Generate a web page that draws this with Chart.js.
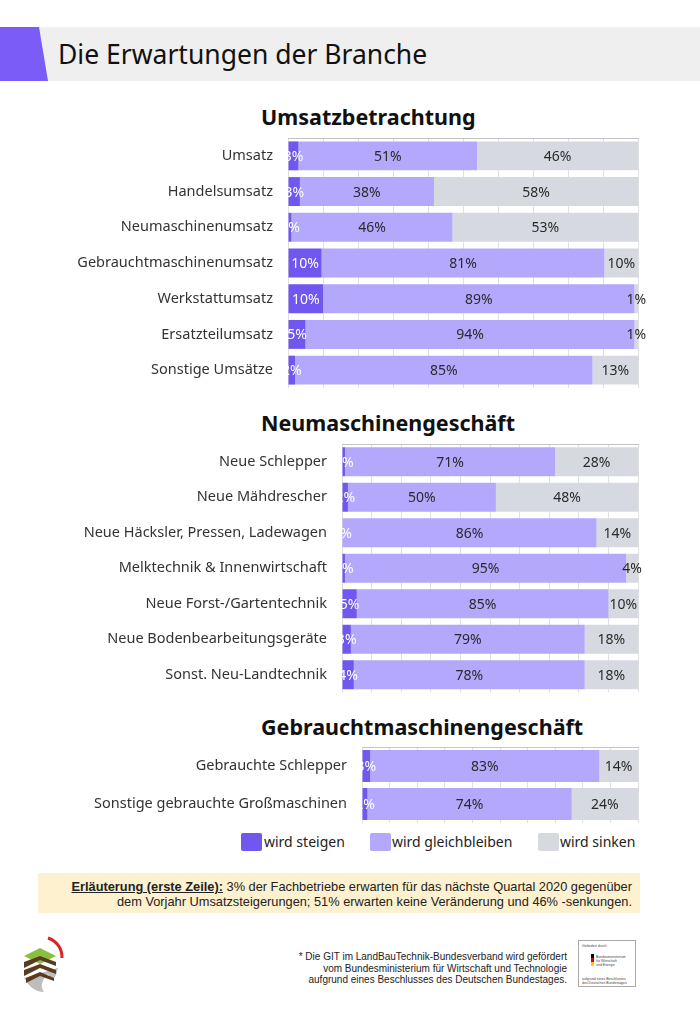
<!DOCTYPE html>
<html lang="de">
<head>
<meta charset="utf-8">
<title>Die Erwartungen der Branche</title>
<script src="https://cdn.jsdelivr.net/npm/chart.js@4.4.0/dist/chart.umd.min.js"></script>
<style>
    body { margin: 0; width: 700px; height: 1011px; position: relative; background: #fff;
           font-family: "Noto Sans", sans-serif; overflow: hidden; color: #222; }
    .titlebar { position: absolute; left: 0; top: 27px; width: 700px; height: 54px; background: #efefef; }
    .titlebar .flag { position: absolute; left: 0; top: 0; width: 48px; height: 54px; background: #7b5cf6;
                      clip-path: polygon(0 0, 39px 0, 48px 100%, 0 100%); }
    .titlebar h1 { position: absolute; left: 58px; top: 0; margin: 0; font-weight: normal; font-size: 26.5px;
                   line-height: 54px; color: #111; white-space: nowrap; }
    .section { position: absolute; left: 261px; margin: 0; font-weight: bold; font-size: 21.5px; line-height: 30px; color: #111; }
    canvas { position: absolute; left: 0; }
    .legend { position: absolute; top: 831px; left: 0; width: 700px; height: 22px; font-size: 14px; color: #222; }
    .legend span { position: absolute; top: 0; line-height: 22px; white-space: nowrap; }
    .legend i { position: absolute; top: 2px; width: 21px; height: 18px; border-radius: 2px; }
    .note { position: absolute; left: 38px; top: 873px; width: 602px; height: 40px; background: #fdf1cf; }
    .note div { position: absolute; right: 8px; white-space: nowrap; font-family: "Liberation Sans Narrow", sans-serif;
                font-size: 12.8px; line-height: 15px; color: #222; }
    .foot { position: absolute; right: 133px; top: 951px; text-align: right; font-family: "Liberation Sans Narrow", sans-serif;
            font-size: 10px; line-height: 11.5px; color: #222; white-space: nowrap; }
    .fund { position: absolute; left: 578px; top: 940px; width: 58px; height: 47px; border: 1px solid #aaa; box-sizing: border-box;
            font-family: "Liberation Sans Narrow", sans-serif; font-size: 3.5px; line-height: 4px; color: #444; }
</style>
</head>
<body>

<div class="titlebar"><div class="flag"></div><h1>Die Erwartungen der Branche</h1></div>

<h2 class="section" style="top:102px">Umsatzbetrachtung</h2>
<canvas id="chartUmsatz" width="660" height="262" style="top:130px"></canvas>

<h2 class="section" style="top:408px">Neumaschinengeschäft</h2>
<canvas id="chartNeu" width="660" height="262" style="top:436px"></canvas>

<h2 class="section" style="top:712px">Gebrauchtmaschinengeschäft</h2>
<canvas id="chartGebraucht" width="660" height="90" style="top:740px"></canvas>

<div class="legend">
    <i style="left:241px;background:#7156ef"></i><span style="left:264px">wird steigen</span>
    <i style="left:370px;background:#b3a8fb"></i><span style="left:392px">wird gleichbleiben</span>
    <i style="left:538px;background:#d6dae0"></i><span style="left:560px">wird sinken</span>
</div>

<div class="note">
    <div style="top:6px"><b><u>Erläuterung (erste Zeile):</u></b> 3% der Fachbetriebe erwarten für das nächste Quartal 2020 gegenüber</div>
    <div style="top:21px">dem Vorjahr Umsatzsteigerungen; 51% erwarten keine Veränderung und 46% -senkungen.</div>
</div>

<svg style="position:absolute;left:18px;top:934px" width="50" height="60" viewBox="0 0 50 60">
    <path d="M30 4 A20 20 0 0 1 44 24" fill="none" stroke="#d22" stroke-width="3"/>
    <path d="M6 44 Q14 58 26 58 Q20 50 30 40 Q36 52 40 34 Z" fill="#bdbdbd"/>
    <path d="M6 22 L22 14 L38 22 L22 30 Z" fill="#8cbf3f"/>
    <path d="M6 28 L22 22 L38 28 L38 32 L22 26 L6 34 Z" fill="#5a3b22"/>
    <path d="M6 36 L22 30 L38 36 L38 40 L22 34 L6 42 Z" fill="#5a3b22"/>
    <path d="M8 44 L22 38 L36 44 L36 47 L22 42 L8 49 Z" fill="#5a3b22"/>
</svg>

<div class="foot">
    * Die GIT im LandBauTechnik-Bundesverband wird gefördert<br>
    vom Bundesministerium für Wirtschaft und Technologie<br>
    aufgrund eines Beschlusses des Deutschen Bundestages.
</div>

<div class="fund">
    <div style="position:absolute;left:3px;top:3px">Gefördert durch:</div>
    <div style="position:absolute;left:12px;top:13px;width:3px;height:12px;background:linear-gradient(#000 33%,#d00 33%,#d00 66%,#fc0 66%)"></div>
    <div style="position:absolute;left:17px;top:14px;width:24px">Bundesministerium für Wirtschaft und Energie</div>
    <div style="position:absolute;left:3px;top:36px;width:50px">aufgrund eines Beschlusses des Deutschen Bundestages</div>
</div>

<script>
/* ===== DATA ===== */
// shares in percent; a few rows carry decimals so the row fills the full bar like the original
const umsatzLabels = ['Umsatz', 'Handelsumsatz', 'Neumaschinenumsatz', 'Gebrauchtmaschinenumsatz',
                      'Werkstattumsatz', 'Ersatzteilumsatz', 'Sonstige Umsätze'];
const umsatzSteigen = [3, 3.4, 1, 9.6, 10, 5, 2];
const umsatzGleich = [51, 38.3, 46, 80.8, 89, 94, 85];
const umsatzSinken = [46, 58.3, 53, 9.6, 1, 1, 13];

const neuLabels = ['Neue Schlepper', 'Neue Mähdrescher', 'Neue Häcksler, Pressen, Ladewagen', 'Melktechnik & Innenwirtschaft',
                   'Neue Forst-/Gartentechnik', 'Neue Bodenbearbeitungsgeräte', 'Sonst. Neu-Landtechnik'];
const neuSteigen = [1, 2, 0, 1, 5, 3, 4];
const neuGleich = [71, 50, 86, 95, 85, 79, 78];
const neuSinken = [28, 48, 14, 4, 10, 18, 18];

const gebrauchtLabels = ['Gebrauchte Schlepper', 'Sonstige gebrauchte Großmaschinen'];
const gebrauchtSteigen = [3, 2];
const gebrauchtGleich = [83, 74];
const gebrauchtSinken = [14, 24];

const seriesNames = ['wird steigen', 'wird gleichbleiben', 'wird sinken'];
const seriesColors = ['#7156ef', '#b3a8fb', '#d6dae0'];

/* ===== PLUGINS ===== */

// percentage labels centred in each segment, clipped at the left plot edge
const valueLabels = {
    id: 'valueLabels',
    afterDatasetsDraw(chart) {
        const { ctx, chartArea } = chart;
        ctx.save();
        ctx.beginPath();
        ctx.rect(chartArea.left, 0, chart.width - chartArea.left, chart.height);
        ctx.clip();
        ctx.font = '14px "Noto Sans"';
        ctx.textAlign = 'center';
        ctx.textBaseline = 'middle';
        chart.data.datasets.forEach((ds, i) => {
            chart.getDatasetMeta(i).data.forEach((bar, j) => {
                ctx.fillStyle = i === 0 ? '#ffffff' : '#2a2a2a';
                ctx.fillText(Math.round(ds.data[j]) + '%', (bar.base + bar.x) / 2, bar.y + 1);
            });
        });
        ctx.restore();
    }
};

/* ===== CHARTS ===== */

function makeChart(id, labels, steigen, gleich, sinken, plotLeft, padTop, padBottom, barPct) {
    const values = [steigen, gleich, sinken];
    return new Chart(document.getElementById(id), {
        type: 'bar',
        data: {
            labels: labels,
            datasets: values.map((data, i) => ({
                label: seriesNames[i],
                data: data,
                backgroundColor: seriesColors[i],
                borderWidth: 0
            }))
        },
        options: {
            indexAxis: 'y',
            responsive: false,
            animation: false,
            layout: { autoPadding: false, padding: { top: padTop, bottom: padBottom, left: 0, right: 22 } },
            datasets: { bar: { categoryPercentage: 1, barPercentage: barPct } },
            plugins: { legend: { display: false }, tooltip: { enabled: false } },
            scales: {
                x: {
                    stacked: true, min: 0, max: 100, position: 'top',
                    ticks: { display: false, stepSize: 10 },
                    grid: { color: '#e0e0e0', drawTicks: false },
                    border: { color: '#c4c4c4' }
                },
                y: {
                    stacked: true,
                    ticks: { color: '#333', padding: 15, font: { size: 14.5, family: 'Noto Sans' } },
                    grid: { display: false, drawTicks: false },
                    border: { display: false },
                    afterFit: function(scale) {
                        // fixed label column, no extra space above/below the rows
                        scale.width = plotLeft;
                        scale.paddingTop = 0;
                        scale.paddingBottom = 0;
                    }
                }
            }
        },
        plugins: [valueLabels]
    });
}

makeChart('chartUmsatz', umsatzLabels, umsatzSteigen, umsatzGleich, umsatzSinken, 288, 8, 4, 0.81);
makeChart('chartNeu', neuLabels, neuSteigen, neuGleich, neuSinken, 342, 8, 5.5, 0.81);
makeChart('chartGebraucht', gebrauchtLabels, gebrauchtSteigen, gebrauchtGleich, gebrauchtSinken, 362, 7, 7, 0.84);
</script>
</body>
</html>
